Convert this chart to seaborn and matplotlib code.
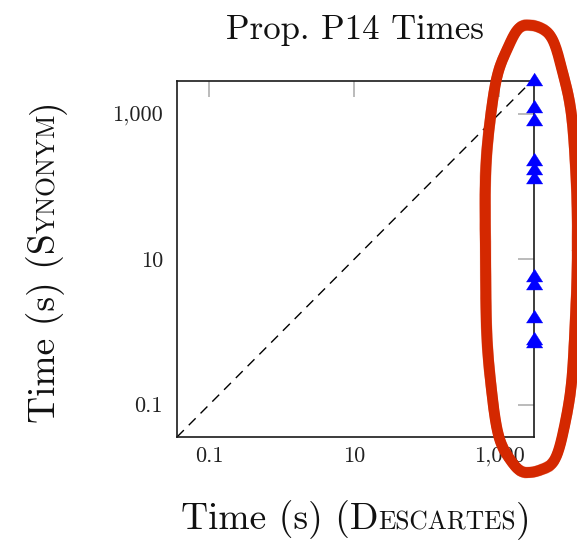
import numpy as np
import pandas as pd
import matplotlib
matplotlib.use("Agg")
import matplotlib.pyplot as plt
import seaborn as sns
from matplotlib.lines import Line2D
from matplotlib.transforms import IdentityTransform
from matplotlib.ticker import FixedLocator, FixedFormatter, NullLocator

# Solve times (seconds) per instance; 3000 s is the timeout
descartes_times = [3000, 3000, 3000, 3000, 3000, 3000, 3000, 3000, 3000, 3000, 3000]
synonym_times = [3000, 1260, 846, 239, 178, 133, 6.1, 4.7, 1.68, 0.82, 0.75]

tick_values = [0.1, 10, 1000]
tick_labels = ["0.1", "10", "1,000"]

x_limits = (0.036, 3000)
y_limits = (0.036, 2800)
diagonal = [0.036, 3000]

title = "Prop. P14 Times"
# (text, relative size) runs emulating small caps
xlabel_runs = [("Time (s) (D", 1.0), ("ESCARTES", 0.68), (")", 1.0)]
ylabel_runs = [("Time (s) (S", 1.0), ("YNONYM", 0.68), (")", 1.0)]

sns.set_theme(style="white")
plt.rcParams["font.family"] = ["cmr10", "DejaVu Serif"]
plt.rcParams["axes.unicode_minus"] = False
plt.rcParams["axes.formatter.use_mathtext"] = True

W, H, DPI = 577, 540, 100
fig = plt.figure(figsize=(W / DPI, H / DPI), dpi=DPI)
fig.patch.set_facecolor("white")
ax = fig.add_axes([177 / W, 103 / H, 357 / W, 356 / H])
ax.set_facecolor("white")

df = pd.DataFrame({"descartes": descartes_times, "synonym": synonym_times})

# y = x reference line
ax.plot(diagonal, diagonal, color="black", lw=1.0, ls=(0, (7, 5)), zorder=2)

tri = [(-1.27, -1.0), (1.27, -1.0), (0.0, 1.0)]
sns.scatterplot(data=df, x="descartes", y="synonym", marker=tri, s=140,
                color="#0000ff", edgecolor="#0000ff", linewidth=0.3,
                ax=ax, zorder=5, legend=False)
for coll in ax.collections:
    coll.set_clip_on(False)

ax.set_xscale("log")
ax.set_yscale("log")
ax.set_xlim(*x_limits)
ax.set_ylim(*y_limits)

for axis in (ax.xaxis, ax.yaxis):
    axis.set_major_locator(FixedLocator(tick_values))
    axis.set_major_formatter(FixedFormatter(tick_labels))
    axis.set_minor_locator(NullLocator())

ax.tick_params(which="major", direction="in", length=11.5, width=1.1,
               color="#a8a8a8", top=True, right=True, labelsize=16,
               labelcolor="#222222")
ax.tick_params(axis="x", pad=7)
ax.tick_params(axis="y", pad=10)
ax.set_xlabel("")
ax.set_ylabel("")

for s in ax.spines.values():
    s.set_color("#1a1a1a")
    s.set_linewidth(1.2)
    s.set_visible(True)

renderer = fig.canvas.get_renderer()
ident = IdentityTransform()


def place_runs(runs, cx, cy, base_size, rotation):
    widths = []
    for text, rel in runs:
        t = fig.text(0, 0, text, fontsize=base_size * rel, transform=ident)
        widths.append(t.get_window_extent(renderer).width)
        t.remove()
    pos = (cx if rotation == 0 else cy) - sum(widths) / 2
    for (text, rel), w in zip(runs, widths):
        if rotation == 0:
            fig.text(pos, cy, text, fontsize=base_size * rel, transform=ident,
                     ha="left", va="baseline", color="#111111")
        else:
            fig.text(cx, pos, text, fontsize=base_size * rel, transform=ident,
                     ha="left", va="baseline", rotation=90,
                     rotation_mode="anchor", color="#111111")
        pos += w


fig.text(355, H - 39, title, fontsize=25, ha="center", va="baseline",
         transform=ident, color="#111111")
place_runs(xlabel_runs, 356, H - 529, 27, 0)
place_runs(ylabel_runs, 55, H - 261, 27, 90)

# Hand-drawn highlight loop (squarish oval) around the timeout column
theta = np.linspace(0, 2 * np.pi, 900)
cx, cy, a, b, n = 531, H - 250.5, 46, 223.5, 2.5
ct, st = np.cos(theta), np.sin(theta)
ux = np.sign(ct) * np.abs(ct) ** (2 / n)
uy = np.sign(st) * np.abs(st) ** (2 / n)
wob = 1 + 0.010 * np.sin(5 * theta + 0.4) + 0.006 * np.sin(11 * theta + 1.3)
red = "#d42800"


def loop(offset, g):
    return (cx + (a + offset * g) * wob * ux,
            cy + (b + offset * g) * wob * uy)


ex, ey = loop(0, 1)
fig.add_artist(Line2D(ex, ey, color=red, lw=7.8, transform=ident,
                      solid_capstyle="round", solid_joinstyle="round", zorder=20))
for off, ph, al in [(-4.6, 0.0, 0.5), (4.6, 1.7, 0.5), (-2.0, 0.9, 0.35),
                    (2.2, 2.6, 0.35)]:
    g = 1 + 0.02 * np.sin(61 * theta + ph) + 0.012 * np.sin(97 * theta + 2 * ph)
    fx, fy = loop(off, g)
    fig.add_artist(Line2D(fx, fy, color=red, lw=1.6, alpha=al, transform=ident,
                          zorder=21))

fig.savefig("out.png", dpi=DPI, facecolor="white")
